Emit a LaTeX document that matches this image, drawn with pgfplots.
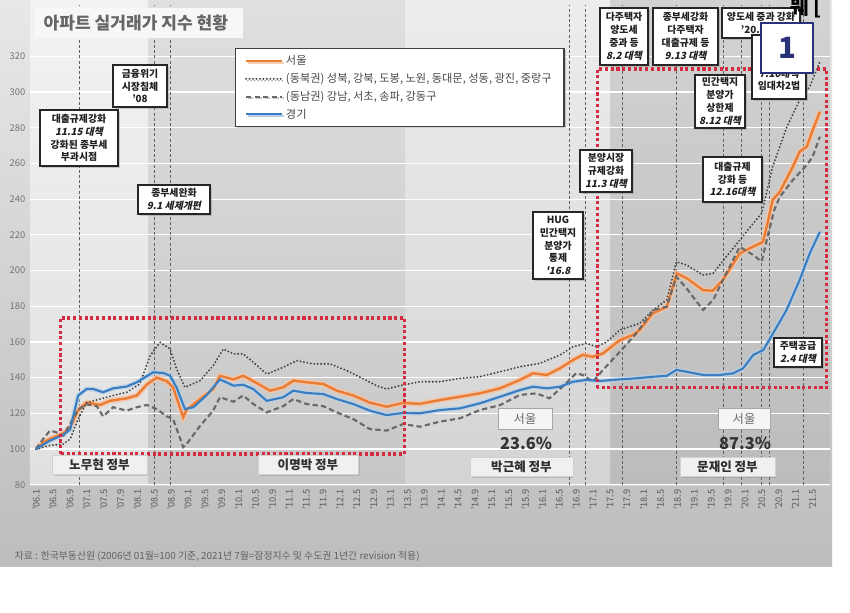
\documentclass[border=0pt]{standalone}
\usepackage{pgfplots}
\usepackage{pgfplotstable}
\pgfplotsset{compat=1.18}
\usepackage{fontspec}
\setmainfont{Noto Sans CJK KR}
\newfontfamily\cjkit[FakeSlant=0.22]{Noto Sans CJK KR}
\usetikzlibrary{shadows}
\definecolor{seoul}{RGB}{234,124,52}
\definecolor{gyeonggi}{RGB}{58,126,192}
\definecolor{nebk}{RGB}{65,65,65}
\definecolor{sebk}{RGB}{105,105,105}
\definecolor{redbox}{RGB}{214,42,64}
\definecolor{navy}{RGB}{40,50,120}
\newcommand{\ib}[1]{{\cjkit\bfseries #1}}

\pgfplotstableread{
m v
0 100
2 104
3.3 105.6
6.5 108.8
8.1 112
10 122
12 126
15.2 124.7
17.5 127
21.5 128.4
23.9 130
26.2 136
28.6 140
31 138
32.5 134.6
34.9 117.8
35.7 122
38.9 128
42 133.6
43.6 141
46.8 139
49.1 141
51.5 138
55.5 132.7
58.6 134.6
61 138.3
64.1 137.4
68.1 136.4
71.3 132.7
75.2 130
79.1 126
83.1 123.7
87 125.8
91 125.3
95.7 127.4
100.5 129.3
105.2 131.2
110 134
114.7 138.7
117.8 142.4
121.1 141.5
124.2 145.2
127.3 149.9
129.6 152.7
132 151.7
134.4 153.6
138.4 161
141.5 163.9
143.1 166.7
146.2 176
149.5 179.7
151.9 198.4
154.3 195.6
158.1 189
160.4 188.7
162.8 194.7
166.8 209.6
169.9 213.3
171.6 215.2
172.3 216
173.2 224.5
174.6 239.5
176.3 244.1
179.4 258.2
181 266.6
182.7 269.4
184.1 278.7
185.8 289
}\seoul

\pgfplotstableread{
m v
0 100
3.3 104.7
6.5 108
8.1 111
10 130
12 133.6
13.6 133.6
15.9 131.8
18.3 134
21.5 135
23.9 137.4
27.8 143
30.2 142.6
31.8 141
33.3 134.6
35.3 122.4
37.3 123.4
40.4 130
43.6 139
46.8 135.5
49.1 136
51.5 133.6
54.7 127
58.6 129
61 132.7
64.1 131.4
68.1 130.8
71.3 128
75.2 125.2
79.1 121.5
83.1 119
87 120.2
91 120
95.7 121.8
100.5 122.8
105.2 125.6
110 129.3
114.7 133
117.8 134.9
121.1 134
124.2 134.9
127.3 137.7
130.5 138.7
133.6 138.1
138.4 139
142.3 139.6
146.3 140.5
149.5 141
151.8 144.3
154.2 143.3
158.1 141.5
162.1 141.5
165.2 142.4
167.6 145.2
170 152.7
172.4 155.5
174.7 164.8
177.9 177.9
181 194.7
183.4 209.6
185.8 221.7
}\gyeonggi

\pgfplotstableread{
m v
0 100
3.3 102
6.5 102.8
8.1 105.6
10 116.8
12 126
15.2 128
18.3 130
21.5 131.8
24.6 136.4
27 152
29.4 159.8
31.8 156
33.3 145
35.3 134.6
38.9 138.3
42 146.7
44.4 156
46.8 153.3
49.1 153.3
51.5 148.6
54.7 142
58.6 145.8
61.8 149.5
65.7 147.7
69.7 147.7
73.6 144
77.6 139.3
80.7 135.5
83.1 133.6
86.3 135.5
91 137.7
95.7 137.7
100.5 139.6
105.2 140.5
110 143.3
114.7 146.1
119.4 148
124.2 152.7
127.3 157.3
130.5 159.2
132.9 157.3
135.3 160.1
138.4 166.7
143.1 170.4
146.3 177.9
149.5 183.5
151.8 204.9
154.2 203.1
158.1 197.5
160.5 198.4
163.6 207.7
166.8 217
169.5 225
172 232
174.6 258.2
178 280.6
181 295.5
183.4 303
185.8 317
}\northeast

\pgfplotstableread{
m v
0 100
1.7 105.6
3.3 110.3
4.9 109.3
6.5 107.5
10 122
12 125
14.4 124
15.9 118.3
18.3 123.4
21.5 121.5
23.9 123.4
26.2 124.7
28.6 122.4
31 118.3
32.5 116.8
34.9 101
35.7 102.8
38.9 113
42 121.5
43.6 129
46.8 126.5
49.1 130
51.5 125.2
54.7 120.5
58.6 124
61 128
64.1 125.2
68.1 124
71.3 120.5
75.2 116.8
79.1 111.2
83.1 110.3
87 114
91 112.5
95.7 115.3
100.5 117.2
105.2 121.8
110 124.6
114.7 130.3
118.6 131.2
121.7 128.4
124.8 134.9
128 142.4
129.6 141.5
132 137.7
134.4 144.3
138.4 154.5
142.3 164.8
146.3 177.9
149.5 179.7
151.8 196.5
154.2 190
158.1 177.9
160.5 183.5
163.6 198.4
166.8 213.3
170 208.7
172 205
173.5 220
175 234
176.3 241.3
179.4 250.7
182.7 259.1
184.1 263.8
185.8 275
}\southeast

\tikzset{
  anno/.style={draw=black!85, line width=0.9pt, fill=white, align=center,
    font=\fontsize{7.4}{9.6}\selectfont\bfseries, text=black!88, inner sep=1.2pt,
    drop shadow={shadow xshift=1.3pt, shadow yshift=-1.3pt, opacity=0.35}},
  gov/.style={fill=black!6, draw=black!18, text=black!82, inner sep=1pt,
    font=\fontsize{9.4}{11}\selectfont\bfseries, minimum height=14.5pt,
    drop shadow={shadow xshift=1.2pt, shadow yshift=-1.2pt, opacity=0.3}},
  sbox/.style={fill=black!4, draw=black!35, text=black!58, inner sep=1pt,
    font=\fontsize{9.2}{11}\selectfont, minimum height=16pt}
}

\begin{document}
\begin{tikzpicture}
\useasboundingbox (0pt,0pt) rectangle (637.5pt,-459.75pt);
\clip (0pt,0pt) rectangle (637.5pt,-459.75pt);
\begin{scope}[x=0.75pt,y=-0.75pt]
\fill[white] (0,0) rectangle (850,613);
\shade[top color=black!9, bottom color=black!26] (0,0) rectangle (832,566);
\shade[top color=black!7, bottom color=black!17] (30,0) rectangle (830,485);
\fill[white, opacity=0.3] (30,0) rectangle (148,485);
\fill[black, opacity=0.06] (148,0) rectangle (405,485);
\fill[black, opacity=0.11] (610,0) rectangle (830,485);
\end{scope}

\begin{axis}[
  at={(22.5pt,-363.525pt)}, anchor=south west,
  scale only axis, width=600pt, height=334.65pt,
  xmin=-1.42, xmax=188.2, ymin=80, ymax=330,
  clip=false,
  axis line style={draw=none},
  major tick length=0pt,
  ytick={80,100,...,320},
  xtick={0,4,...,184},
  xticklabels={'06.1,'06.5,'06.9,'07.1,'07.5,'07.9,'08.1,'08.5,'08.9,'09.1,'09.5,'09.9,'10.1,'10.5,'10.9,'11.1,'11.5,'11.9,'12.1,'12.5,'12.9,'13.1,'13.5,'13.9,'14.1,'14.5,'14.9,'15.1,'15.5,'15.9,'16.1,'16.5,'16.9,'17.1,'17.5,'17.9,'18.1,'18.5,'18.9,'19.1,'19.5,'19.9,'20.1,'20.5,'20.9,'21.1,'21.5},
  ymajorgrids, major grid style={white, line width=0.9pt},
  /pgf/number format/assume math mode=true,
  yticklabel style={font=\fontsize{7}{8}\selectfont, text=black!55},
  xticklabel style={rotate=90, anchor=east, font=\fontsize{6.9}{7.5}\selectfont, text=black!65},
  legend style={at={(0.256,0.9787)}, anchor=north west, draw=black!75, line width=1.1pt,
    fill=white, font=\fontsize{8.4}{9.8}\selectfont, text=black!72, row sep=0.9pt,
    inner xsep=7pt, inner ysep=3pt,
    drop shadow={shadow xshift=1.3pt, shadow yshift=-1.3pt, opacity=0.35}},
  legend cell align=left,
  legend image code/.code={\draw[#1] (0cm,0cm) -- (0.95cm,0cm);},
]
% policy event lines
\pgfplotsinvokeforeach{10.4,28.2,31.8,126.5,130.3,138.9,151.9,163,167.3,172,173.9,181.8}{
  \draw[black!62, line width=0.7pt, dash pattern=on 2.2pt off 1.7pt] (axis cs:#1,80) -- (axis cs:#1,348.7);
}
% halos
\addplot[seoul!45, line width=4.4pt, opacity=0.75, forget plot] table[x=m,y=v] {\seoul};
\addplot[gyeonggi!35, line width=3.6pt, opacity=0.75, forget plot] table[x=m,y=v] {\gyeonggi};
% series
\addplot[seoul, line width=1.8pt] table[x=m,y=v] {\seoul};
\addlegendentry{서울}
\addplot[nebk, line width=1.6pt, line cap=round, dash pattern=on 0pt off 2.6pt] table[x=m,y=v] {\northeast};
\addlegendentry{(동북권) 성북, 강북, 도봉, 노원, 동대문, 성동, 광진, 중랑구}
\addplot[sebk, line width=1.6pt, dash pattern=on 4pt off 2.4pt] table[x=m,y=v] {\southeast};
\addlegendentry{(동남권) 강남, 서초, 송파, 강동구}
\addplot[gyeonggi, line width=1.6pt] table[x=m,y=v] {\gyeonggi};
\addlegendentry{경기}
% red dotted frames
\draw[redbox, line width=2.3pt, dash pattern=on 2.3pt off 2pt] (axis cs:5.7,97.2) rectangle (axis cs:87.4,173.4);
\draw[redbox, line width=2.3pt, dash pattern=on 2.3pt off 2pt] (axis cs:133,134.2) rectangle (axis cs:187.4,312.9);
\end{axis}

\begin{scope}[x=0.75pt,y=-0.75pt]
% title
\fill[black!3] (35,8) rectangle (243,38);
\node[anchor=west, font=\fontsize{12.8}{14}\selectfont\bfseries, text=black!60] at (39,23) {아파트 실거래가 지수 현황};

% annotation boxes
\node[anno, minimum width=58.5pt, minimum height=42pt] at (79,138) {대출규제강화\\\ib{11.15 대책}\\강화된 종부세\\부과시점};
\node[anno, minimum width=40.5pt, minimum height=31.5pt] at (140,86) {금융위기\\시장침체\\'08};
\node[anno, minimum width=54pt, minimum height=21.75pt] at (174,199.5) {종부세완화\\\ib{9.1 세제개편}};
\node[anno, minimum width=37.5pt, minimum height=50.25pt] at (558,245.5) {HUG\\민간택지\\분양가\\통제\\\ib{'16.8}};
\node[anno, minimum width=39pt, minimum height=31.5pt] at (606,171) {분양시장\\규제강화\\\ib{11.3 대책}};
\node[anno, minimum width=36pt, minimum height=42.75pt] at (624,36.5) {다주택자\\양도세\\중과 등\\\ib{8.2 대책}};
\node[anno, minimum width=48.75pt, minimum height=42.75pt] at (685.5,36.5) {종부세강화\\다주택자\\대출규제 등\\\ib{9.13 대책}};
\node[anno, minimum width=58.5pt, minimum height=22.5pt] at (761,23) {양도세 중과 강화\\'20.7.10};
\node[anno, minimum width=40.5pt, minimum height=48pt] at (779,67) {다주택자\\종부세\\\ib{7.10대책}\\임대차2법};
\node[anno, minimum width=37.5pt, minimum height=39.75pt] at (720,101.5) {민간택지\\분양가\\상한제\\\ib{8.12 대책}};
\node[anno, minimum width=44.25pt, minimum height=33.75pt] at (732.5,179.5) {대출규제\\강화 등\\\ib{12.16대책}};
\node[anno, minimum width=36pt, minimum height=21.75pt] at (798,352.5) {주택공급\\\ib{2.4 대책}};

% government labels
\node[gov, minimum width=71pt] at (99.5,464.5) {노무현 정부};
\node[gov, minimum width=75pt] at (308,464.5) {이명박 정부};
\node[gov, minimum width=77pt] at (521.5,467) {박근혜 정부};
\node[gov, minimum width=71pt] at (727.5,467) {문재인 정부};
\node[sbox, minimum width=40.5pt] at (525,419) {서울};
\node[sbox, minimum width=39pt] at (744,419) {서울};
\node[font=\fontsize{12.3}{14}\selectfont\bfseries, text=black!80] at (526,443) {23.6\%};
\node[font=\fontsize{12.3}{14}\selectfont\bfseries, text=black!80] at (745,443) {87.3\%};

% box "1"
\draw[navy, line width=1.6pt, fill=white] (761,23) rectangle (813,73);
\node[font=\fontsize{22}{24}\selectfont\bfseries, text=navy] at (787,48) {1};
\node[font=\fontsize{15}{16}\selectfont\bfseries, text=black, anchor=west] at (786,8) {뭬 [};

% source
\node[anchor=west, font=\fontsize{7.4}{9}\selectfont, text=black!62] at (10,556) {자료 : 한국부동산원 (2006년 01월=100 기준, 2021년 7월=잠정지수 및 수도권 1년간 revision 적용)};
\end{scope}
\end{tikzpicture}
\end{document}
